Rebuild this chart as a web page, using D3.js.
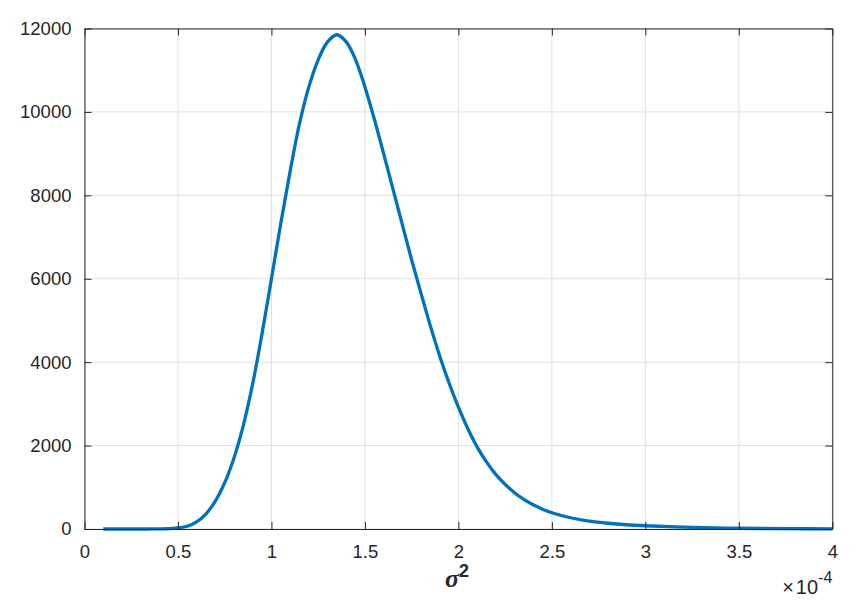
<!DOCTYPE html>
<html>
<head>
<meta charset="utf-8">
<script src="https://cdn.jsdelivr.net/npm/d3@7"></script>
<style>
  html, body { margin: 0; padding: 0; background: #fff; }
  svg { display: block; }
</style>
</head>
<body>
<svg id="chart" width="850" height="607"></svg>
<script>
// sigma^2 values (in units of 1e-4) and density values
const xValues = [0.1, 0.2, 0.3, 0.35, 0.4, 0.45, 0.5, 0.55, 0.6, 0.65, 0.7, 0.75, 0.8, 0.85, 0.9, 0.95,
  1.0, 1.05, 1.1, 1.15, 1.2, 1.25, 1.3, 1.35, 1.4, 1.45, 1.5, 1.55, 1.6, 1.65, 1.7, 1.75, 1.8, 1.85, 1.9, 1.95,
  2.0, 2.05, 2.1, 2.15, 2.2, 2.25, 2.3, 2.35, 2.4, 2.45, 2.5, 2.6, 2.7, 2.8, 2.9, 3.0, 3.25, 3.5, 3.75, 4.0];
const yValues = [0, 0, 0, 1, 3, 9, 25, 65, 170, 365, 670, 1110, 1710, 2490, 3490, 4690,
  6000, 7330, 8580, 9720, 10600, 11250, 11680, 11850, 11680, 11250, 10600, 9830, 9000, 8150, 7300, 6450, 5650, 4870, 4150, 3500,
  2920, 2410, 1970, 1610, 1310, 1070, 870, 710, 580, 475, 390, 270, 190, 138, 102, 78, 38, 18, 8, 4];
const xTicks = [0, 0.5, 1, 1.5, 2, 2.5, 3, 3.5, 4];
const yTicks = [0, 2000, 4000, 6000, 8000, 10000, 12000];

const svg = d3.select("#chart");
const L = 84.5, R = 832.3, T = 28.5, B = 529;

const x = d3.scaleLinear().domain([0, 4]).range([L, R]);
const y = d3.scaleLinear().domain([0, 12000]).range([B, T]);

const font = "'Liberation Sans', Arial, Helvetica, sans-serif";
const axisColor = "#262626";

// grid
const grid = svg.append("g");
grid.selectAll("line.gx").data(xTicks).join("line")
  .attr("x1", d => x(d)).attr("x2", d => x(d))
  .attr("y1", T).attr("y2", B)
  .attr("stroke", "#dfdfdf").attr("stroke-width", 1);
grid.selectAll("line.gy").data(yTicks).join("line")
  .attr("y1", d => y(d)).attr("y2", d => y(d))
  .attr("x1", L).attr("x2", R)
  .attr("stroke", "#dfdfdf").attr("stroke-width", 1);

// data line
const pts = xValues.map((v, i) => [v, yValues[i]]);
const line = d3.line().x(d => x(d[0])).y(d => y(d[1])).curve(d3.curveCatmullRom.alpha(0.5));
svg.append("path").datum(pts)
  .attr("d", line)
  .attr("fill", "none")
  .attr("stroke", "#0072BD")
  .attr("stroke-width", 3.3)
  .attr("stroke-linejoin", "round")
  .attr("stroke-linecap", "butt");

// axes with inward ticks
const tickLen = 7;
const xAxisB = d3.axisBottom(x).tickValues(xTicks).tickSizeInner(-tickLen).tickSizeOuter(0)
  .tickPadding(16).tickFormat(d3.format("~g"));
const xAxisT = d3.axisTop(x).tickValues(xTicks).tickSizeInner(-tickLen).tickSizeOuter(0).tickFormat("");
const yAxisL = d3.axisLeft(y).tickValues(yTicks).tickSizeInner(-tickLen).tickSizeOuter(0)
  .tickPadding(13).tickFormat(d3.format("d"));
const yAxisR = d3.axisRight(y).tickValues(yTicks).tickSizeInner(-tickLen).tickSizeOuter(0).tickFormat("");

function style(g) {
  g.selectAll("path.domain").attr("stroke", axisColor).attr("stroke-width", 1);
  g.selectAll(".tick line").attr("stroke", axisColor).attr("stroke-width", 1);
  g.selectAll(".tick text").attr("fill", "#262626").style("font-family", font).style("font-size", "18.5px");
}
svg.append("g").attr("transform", `translate(0,${B})`).call(xAxisB).call(style);
svg.append("g").attr("transform", `translate(0,${T})`).call(xAxisT).call(style);
svg.append("g").attr("transform", `translate(${L},0)`).call(yAxisL).call(style);
svg.append("g").attr("transform", `translate(${R},0)`).call(yAxisR).call(style);

// x label sigma^2
const xl = svg.append("text")
  .attr("x", 457).attr("y", 587)
  .attr("text-anchor", "middle")
  .attr("fill", "#262626")
  .style("font-family", "'Liberation Serif', 'Times New Roman', serif")
  .style("font-weight", "bold")
  .style("font-size", "26px");
xl.append("tspan").style("font-style", "italic").text("σ");
xl.append("tspan").attr("dy", -10).style("font-size", "18px")
  .style("font-family", font).text("2");

// exponent label
const ex = svg.append("text")
  .attr("x", R).attr("y", 594)
  .attr("text-anchor", "end")
  .attr("fill", "#262626")
  .style("font-family", font)
  .style("font-size", "20px");
ex.append("tspan").style("font-weight", "300").text("×");
ex.append("tspan").attr("dx", 2).text("10");
ex.append("tspan").attr("dy", -11).style("font-size", "16px").text("-4");
</script>
</body>
</html>
